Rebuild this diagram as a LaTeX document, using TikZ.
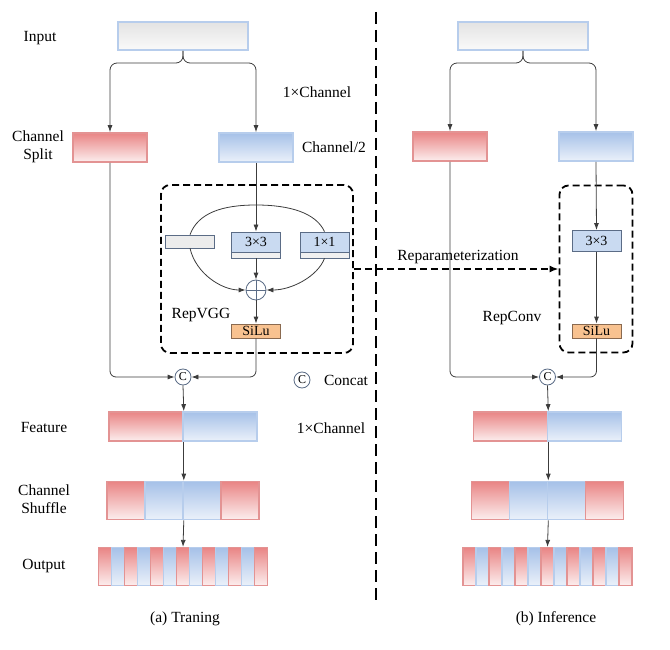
\documentclass[tikz,border=0pt]{standalone}
\usepackage{fontspec}
\setmainfont{Liberation Serif}
\usetikzlibrary{arrows.meta}
\definecolor{redline}{HTML}{E39393}
\definecolor{redtop}{HTML}{E98585}
\definecolor{redbot}{HTML}{FCEEEE}
\definecolor{blueline}{HTML}{B7CDEC}
\definecolor{bluetop}{HTML}{A6C1E8}
\definecolor{bluebot}{HTML}{EBF1FA}
\definecolor{convfill}{HTML}{C9DAF1}
\definecolor{convline}{HTML}{5B6C86}
\definecolor{silufill}{HTML}{F8C290}
\definecolor{siluline}{HTML}{8A6A50}
\definecolor{wire}{HTML}{3C3C3C}
\tikzset{
  lbl/.style={font=\fontsize{15.5}{18}\selectfont, align=center, inner sep=0pt},
  redbox/.style={draw=redline, line width=1.6pt, top color=redtop, bottom color=redbot, inner sep=0pt, minimum height=29pt},
  bluebox/.style={draw=blueline, line width=1.6pt, top color=bluetop, bottom color=bluebot, inner sep=0pt, minimum height=29pt},
  inbox/.style={draw=blueline, line width=1.6pt, top color=gray!22, bottom color=gray!4, inner sep=0pt, minimum width=130pt, minimum height=28pt},
  convbox/.style={draw=convline, line width=0.8pt, fill=convfill, inner sep=0pt, minimum width=49pt, minimum height=20pt, font=\fontsize{14}{16}\selectfont},
  stripbox/.style={draw=convline, line width=0.6pt, fill=gray!12, inner sep=0pt, minimum width=49pt, minimum height=6pt},
  silubox/.style={draw=siluline, line width=0.8pt, fill=silufill, inner sep=0pt, minimum width=49pt, minimum height=14pt, font=\fontsize{14}{14}\selectfont},
  catnode/.style={circle, draw=convline, line width=0.8pt, fill=white, inner sep=0pt, minimum size=16pt, font=\fontsize{12}{12}\selectfont},
  dashbox/.style={draw, line width=1.8pt, dash pattern=on 7pt off 4pt, rounded corners=9pt, inner sep=0pt},
  arr/.style={draw=wire, line width=0.8pt, -{Latex[length=7pt,width=5pt]}},
  wireline/.style={draw=wire, line width=0.8pt}
}
\begin{document}
\begin{tikzpicture}[x=1pt, y=-1pt]
\useasboundingbox (0,0) rectangle (670,650);

% (a) training
\node[inbox] (inA) at (183,36) {};
\node[redbox, minimum width=74pt] (splitA) at (110,147.5) {};
\node[bluebox, minimum width=74pt] (halfA) at (256,147.5) {};
\coordinate (fkA) at (183,63);
\draw[arr, rounded corners=7pt] (inA.south) -- (fkA) -| (splitA.north);
\draw[arr, rounded corners=7pt] (inA.south) -- (fkA) -| (halfA.north);

\node[dashbox, minimum width=192pt, minimum height=168pt] (repvgg) at (257,269) {};
\node[stripbox, fill=gray!15, minimum height=13pt] (grayA) at (190,241.5) {};
\node[convbox] (k3A) at (256,242) {3×3};
\node[stripbox] (k3sA) at (256,255) {};
\node[convbox] (k1A) at (324.5,242) {1×1};
\node[stripbox] (k1sA) at (324.5,255) {};
\node[circle, draw=convline, line width=0.8pt, minimum size=20pt, inner sep=0pt] (plusA) at (256,290) {};
\draw[draw=convline, line width=0.8pt] (plusA.north) -- (plusA.south) (plusA.west) -- (plusA.east);
\node[silubox] (siluA) at (256,331) {SiLu};
\node[catnode] (catA) at (183,377) {C};
\coordinate (arcA) at (256,205);

\draw[arr] (halfA.south) -- (k3A.north);
\draw[wireline] (grayA.north) .. controls (198,213) and (222,205) .. (arcA) .. controls (290,205) and (316,213) .. (k1A.north);
\draw[arr] (grayA.south) .. controls (196,274) and (222,290) .. (plusA.west);
\draw[arr] (k1sA.south) .. controls (318,276) and (292,290) .. (plusA.east);
\draw[arr] (k3sA.south) -- (plusA.north);
\draw[arr] (plusA.south) -- (siluA.north);
\draw[arr, rounded corners=6pt] (siluA.south) |- (catA.east);
\draw[arr, rounded corners=6pt] (splitA.south) |- (catA.west);

\node[lbl] (lInput) at (40,38) {Input};
\node[lbl] (lSplit) at (38,147) {Channel\\Split};
\node[lbl] (lOne) at (317,92) {1×Channel};
\node[lbl] (lHalf) at (334,147) {Channel/2};
\node[lbl] (lRepVGG) at (201,315) {RepVGG};
\node[catnode] (catKey) at (302,380) {C};
\node[lbl] (lConcat) at (346,380) {Concat};
\node[lbl] (lFeature) at (44,427) {Feature};
\node[lbl] (lOneB) at (331,428) {1×Channel};
\node[lbl] (lShuffle) at (44,499) {Channel\\Shuffle};
\node[lbl] (lOutput) at (44,566) {Output};
\node[lbl] (capA) at (185,619) {(a) Traning};

% (b) inference
\node[inbox] (inB) at (523,36) {};
\node[redbox, minimum width=74pt] (splitB) at (450,146.5) {};
\node[bluebox, minimum width=74pt] (halfB) at (596,146.5) {};
\coordinate (fkB) at (523,63);
\draw[arr, rounded corners=7pt] (inB.south) -- (fkB) -| (splitB.north);
\draw[arr, rounded corners=7pt] (inB.south) -- (fkB) -| (halfB.north);

\node[dashbox, minimum width=73pt, minimum height=167pt] (repconv) at (596,269) {};
\node[convbox, minimum height=21pt] (k3B) at (596.5,241) {3×3};
\node[silubox] (siluB) at (596.5,331) {SiLu};
\node[catnode] (catB) at (547.5,377) {C};

\draw[arr] (halfB.south) -- (k3B.north);
\draw[arr] (k3B.south) -- (siluB.north);
\draw[arr, rounded corners=6pt] (siluB.south) |- (catB.east);
\draw[arr, rounded corners=6pt] (splitB.south) |- (catB.west);

\node[lbl] (lRepConv) at (512,318) {RepConv};
\node[lbl] (capB) at (556,619) {(b) Inference};

% shared lower part
\foreach \p/\cx in {A/183,B/547.5} {
  \node[redbox, minimum width=74pt] (feat\p1) at (\cx-37,426.5) {};
  \node[bluebox, minimum width=74pt] (feat\p2) at (\cx+37,426.5) {};
  \foreach \k/\dx/\st in {1/-57/redbox,2/-19/bluebox,3/19/bluebox,4/57/redbox}
    \node[\st, minimum width=38pt, minimum height=38pt] (shuf\p\k) at (\cx+\dx,500.5) {};
  \foreach \i in {0,...,12} {
    \ifodd\i
      \node[bluebox, line width=1.2pt, minimum width=13pt, minimum height=38pt] (out\p\i) at (\cx-78+13*\i,566.5) {};
    \else
      \node[redbox, line width=1.2pt, minimum width=13pt, minimum height=38pt] (out\p\i) at (\cx-78+13*\i,566.5) {};
    \fi
  }
  \draw[arr] (cat\p.south) -- (feat\p1.north east);
  \draw[arr] (feat\p1.south east) -- (shuf\p2.north east);
  \draw[arr] (shuf\p2.south east) -- (out\p6.north);
}

% divider and reparameterization
\coordinate (midT) at (376,12);
\coordinate (midB) at (376,605);
\draw[line width=2.6pt, dash pattern=on 12pt off 6pt] (midT) -- (midB);
\draw[line width=1.8pt, dash pattern=on 7pt off 4pt, -{Latex[length=9pt,width=7pt]}] (repvgg.east) -- (repconv.west);
\node[lbl] (lRep) at (458,257) {Reparameterization};
\end{tikzpicture}
\end{document}
